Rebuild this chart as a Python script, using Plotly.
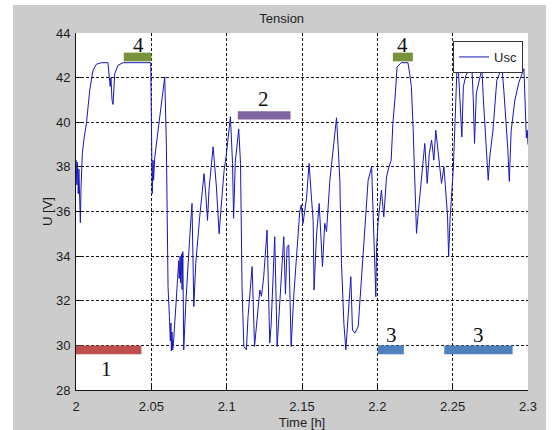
import plotly.graph_objects as go

# Supercapacitor voltage over time
time_h = [
    2.0001, 2.0006, 2.0010, 2.0015, 2.0019, 2.0025, 2.0029, 2.0033, 2.0038, 2.0042,
    2.0054, 2.0069, 2.0091, 2.0113, 2.0135, 2.0169, 2.0212, 2.0220, 2.0227, 2.0232,
    2.0239, 2.0246, 2.0257, 2.0279, 2.0312, 2.0496, 2.0499, 2.0503, 2.0506, 2.0511,
    2.0515, 2.0523, 2.0556, 2.0589, 2.0600, 2.0604, 2.0611, 2.0620, 2.0626, 2.0630,
    2.0633, 2.0637, 2.0642, 2.0649, 2.0655, 2.0667, 2.0675, 2.0682, 2.0685, 2.0691,
    2.0695, 2.0700, 2.0704, 2.0709, 2.0715, 2.0728, 2.0755, 2.0770, 2.0782, 2.0795,
    2.0821, 2.0850, 2.0861, 2.0873, 2.0883, 2.0910, 2.0932, 2.0950, 2.0961, 2.0983,
    2.0997, 2.1009, 2.1025, 2.1039, 2.1046, 2.1057, 2.1080, 2.1092, 2.1102, 2.1114,
    2.1131, 2.1142, 2.1169, 2.1185, 2.1202, 2.1220, 2.1231, 2.1246, 2.1268, 2.1286,
    2.1295, 2.1319, 2.1335, 2.1357, 2.1368, 2.1379, 2.1390, 2.1401, 2.1412, 2.1428,
    2.1446, 2.1467, 2.1485, 2.1495, 2.1507, 2.1530, 2.1547, 2.1563, 2.1574, 2.1580,
    2.1596, 2.1614, 2.1625, 2.1636, 2.1651, 2.1663, 2.1685, 2.1729, 2.1740, 2.1751,
    2.1762, 2.1778, 2.1791, 2.1806, 2.1824, 2.1835, 2.1851, 2.1873, 2.1895, 2.1917,
    2.1939, 2.1962, 2.1977, 2.1990, 2.1995, 2.2005, 2.2027, 2.2043, 2.2061, 2.2073,
    2.2092, 2.2103, 2.2118, 2.2131, 2.2158, 2.2203, 2.2212, 2.2226, 2.2238, 2.2249,
    2.2260, 2.2271, 2.2294, 2.2315, 2.2331, 2.2345, 2.2360, 2.2375, 2.2388, 2.2404,
    2.2415, 2.2426, 2.2442, 2.2455, 2.2466, 2.2473, 2.2483, 2.2505, 2.2515, 2.2528,
    2.2537, 2.2548, 2.2561, 2.2571, 2.2588, 2.2614, 2.2627, 2.2637, 2.2645, 2.2657,
    2.2681, 2.2694, 2.2704, 2.2725, 2.2736, 2.2747, 2.2767, 2.2793, 2.2827, 2.2840,
    2.2853, 2.2866, 2.2876, 2.2888, 2.2913, 2.2940, 2.2973, 2.2983, 2.2989, 2.2995,
    2.3000,
]
usc_v = [
    38.3, 37.2, 38.2, 36.8, 37.9, 36.0, 35.5, 37.0, 38.3, 38.6,
    39.3, 39.94, 41.43, 42.33, 42.6, 42.67, 42.67, 42.1, 41.6, 42.0,
    41.0, 40.8, 42.18, 42.55, 42.67, 42.67, 39.5, 38.0, 36.8, 38.3,
    37.4, 38.45, 40.3, 42.03, 38.9, 35.5, 32.6, 31.3, 30.2, 31.0,
    29.75, 30.6, 29.8, 30.3, 31.0, 32.18, 33.0, 33.8, 33.0, 34.0,
    32.8, 34.1, 32.5, 34.2, 29.8, 31.8, 34.87, 36.36, 31.74, 33.68,
    35.76, 37.7, 36.8, 35.6, 37.0, 38.9, 37.1, 35.0, 36.0, 37.85,
    38.5, 39.34, 40.25, 38.15, 35.7, 38.2, 39.7, 38.15, 32.63, 29.95,
    29.8, 31.29, 33.53, 29.95, 31.3, 32.48, 32.2, 33.08, 35.17, 30.1,
    30.9, 34.87, 29.95, 32.48, 33.5, 34.87, 32.3, 34.42, 34.5, 29.95,
    32.3, 34.57, 36.0, 36.3, 35.47, 36.6, 38.15, 36.6, 35.6, 32.48,
    34.9, 36.36, 34.8, 33.53, 35.47, 35.1, 37.4, 40.2, 38.9, 37.4,
    33.68, 30.99, 29.8, 31.5, 33.08, 30.69, 30.55, 30.84, 32.93, 35.17,
    37.4, 38.0, 34.72, 32.18, 34.4, 35.5, 36.96, 35.76, 37.55, 37.9,
    38.3, 39.94, 41.13, 42.47, 42.67, 42.67, 42.3, 41.6, 39.64, 37.0,
    35.02, 35.9, 37.4, 39.05, 37.26, 38.6, 39.2, 38.3, 39.64, 38.5,
    38.0, 37.26, 38.0, 36.5, 35.8, 33.97, 35.7, 38.0, 39.79, 42.3,
    42.47, 41.2, 39.34, 41.6, 42.1, 42.4, 42.55, 41.0, 39.05, 41.3,
    42.03, 42.4, 41.0, 38.9, 37.4, 38.5, 39.6, 41.88, 42.47, 41.4,
    40.3, 38.8, 37.35, 39.6, 41.0, 41.8, 42.4, 40.0, 39.3, 39.64,
    39.0,
]

# Operating-mode bands: label, start [h], end [h], lower / upper voltage, colour
band_labels = ["1", "4", "2", "4", "3", "3"]
band_start = [1.9976, 2.0317, 2.1074, 2.2103, 2.2003, 2.2444]
band_end = [2.0434, 2.0501, 2.1424, 2.2236, 2.2176, 2.2898]
band_low = [29.6, 42.73, 40.12, 42.73, 29.6, 29.6]
band_high = [30.0, 43.12, 40.49, 43.12, 30.0, 30.0]
band_colors = ["#c0504d", "#77933c", "#8064a2", "#77933c", "#4f81bd", "#4f81bd"]
label_x = [2.0202, 2.0412, 2.1242, 2.2165, 2.2092, 2.2672]
label_y = [28.93, 43.45, 41.02, 43.45, 30.47, 30.47]

x_ticks = [2, 2.05, 2.1, 2.15, 2.2, 2.25, 2.3]
x_tick_text = ["2", "2.05", "2.1", "2.15", "2.2", "2.25", "2.3"]
y_ticks = [28, 30, 32, 34, 36, 38, 40, 42, 44]

W, H = 558, 430
M_L, M_R, M_T, M_B = 76, 30, 33, 40
PW, PH = W - M_L - M_R, H - M_T - M_B


def px_x(p):
    return (p - M_L) / PW


def px_y(p):
    return (H - M_B - p) / PH


FIG_GREY = "#cccccc"
TXT = "#1e1e1e"
SANS = "Liberation Sans, Arial, sans-serif"
LABEL_FONT = dict(family=SANS, size=13, color=TXT)

fig = go.Figure()
fig.add_trace(go.Scatter(
    x=time_h, y=usc_v, mode="lines", name="Usc",
    line=dict(color="#1616c0", width=1),
))

shapes = []
for x0, x1, y0, y1, c in zip(band_start, band_end, band_low, band_high, band_colors):
    shapes.append(dict(type="rect", xref="x", yref="y", x0=x0, x1=x1, y0=y0, y1=y1,
                       fillcolor=c, line=dict(width=0), layer="above"))

# white page border around the grey figure panel
for x0, x1, y0, y1 in [(0, 13, 0, H), (546, W, 0, H), (0, W, 0, 5)]:
    shapes.append(dict(type="rect", xref="paper", yref="paper",
                       x0=px_x(x0), x1=px_x(x1), y0=px_y(y1), y1=px_y(y0),
                       fillcolor="white", line=dict(width=0), layer="below"))

annotations = []
for t, lx, ly in zip(band_labels, label_x, label_y):
    annotations.append(dict(x=lx, y=ly, xref="x", yref="y", text=t, showarrow=False,
                            font=dict(family="Liberation Serif, Times New Roman, serif",
                                      size=21, color="#111111")))

fig.update_layout(
    width=W, height=H,
    margin=dict(l=M_L, r=M_R, t=M_T, b=M_B, autoexpand=False),
    paper_bgcolor=FIG_GREY, plot_bgcolor="white",
    font=LABEL_FONT,
    title=dict(text="Tension", x=px_x(281.7), xref="paper", xanchor="center",
               y=1 - 18.3 / H, yref="container", yanchor="middle",
               font=LABEL_FONT),
    showlegend=True,
    legend=dict(x=px_x(523), y=px_y(41), xanchor="right", yanchor="top",
                bgcolor="white", bordercolor="#333333", borderwidth=1,
                font=LABEL_FONT),
    shapes=shapes,
    annotations=annotations,
)

grid_style = dict(showgrid=True, gridcolor="#111111", gridwidth=1, griddash="3px,2px",
                  zeroline=False, showline=True, linecolor="#111111", linewidth=1,
                  ticks="inside", ticklen=5, tickcolor="#111111", mirror=False,
                  tickfont=LABEL_FONT, automargin=False)

fig.update_xaxes(range=[2, 2.3], tickvals=x_ticks, ticktext=x_tick_text,
                 ticklabelstandoff=4,
                 title=dict(text="Time [h]", standoff=5, font=LABEL_FONT), **grid_style)
fig.update_yaxes(range=[28, 44], tickvals=y_ticks, ticklabelstandoff=2,
                 title=dict(text="U [V]", standoff=0, font=LABEL_FONT), **grid_style)

fig.write_html("out.html")
